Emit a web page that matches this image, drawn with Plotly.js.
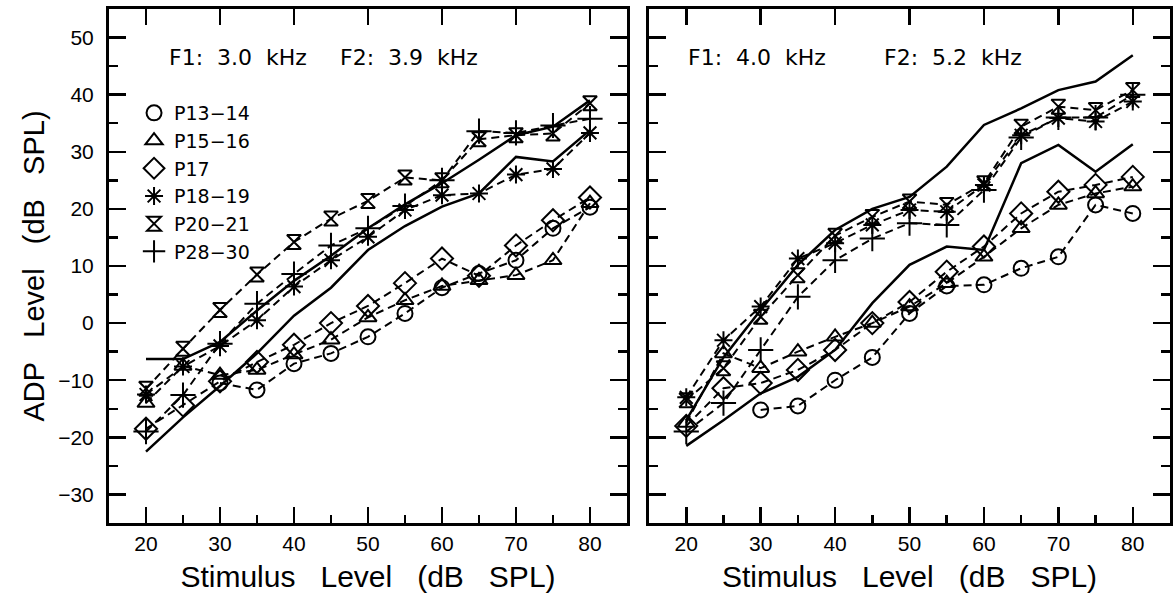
<!DOCTYPE html>
<html><head><meta charset="utf-8">
<script src="https://cdn.plot.ly/plotly-3.0.1.min.js"></script>
<style>html,body{margin:0;padding:0;background:#fff}#chart{width:1175px;height:597px}</style>
</head><body><div id="chart"></div>
<script>
// Stimulus levels (dB SPL)
const levels = [20,25,30,35,40,45,50,55,60,65,70,75,80];
const seriesNames = ['P13\u221214','P15\u221216','P17','P18\u221219','P20\u221221','P28\u221230'];
const seriesSymbols = ['circle-open','triangle-up-open','diamond-open','asterisk-open','hourglass-open','cross-thin-open'];
const seriesSizes = [15,15,17,15,14,18];

// Left panel: F1 3.0 kHz, F2 3.9 kHz
const L_P13_14 = [null,null,-10.5,-11.7,-7.1,-5.3,-2.4,1.7,6.2,8.7,11.0,16.6,20.3];
const L_P15_16 = [-14.0,-7.5,-9.1,-8.2,-5.5,-2.9,1.0,4.0,6.5,7.5,8.4,11.0,21.0];
const L_P17    = [-18.5,-14.4,-10.2,-6.8,-3.8,0.0,3.0,7.0,11.3,8.3,13.6,18.0,22.0];
const L_P18_19 = [-12.5,-7.6,-4.0,0.5,6.4,11.0,15.1,19.8,22.4,22.7,26.0,27.0,33.3];
const L_P20_21 = [-11.5,-4.5,2.3,8.5,14.2,18.3,21.4,25.5,25.0,32.2,32.9,33.2,38.5];
const L_P28_30 = [-19.0,-12.6,-3.6,3.4,8.6,13.6,16.6,20.5,25.0,33.6,33.3,34.6,35.8];
const L_solidUpper = [-6.3,-6.3,-3.3,2.2,7.4,11.8,16.6,20.8,24.5,28.6,32.9,34.4,39.0];
const L_solidLower = [-22.5,-16.5,-11.0,-5.3,1.3,6.2,12.8,17.0,20.4,22.7,29.1,28.3,33.8];

// Right panel: F1 4.0 kHz, F2 5.2 kHz
const R_P13_14 = [null,null,-15.2,-14.5,-10.0,-6.0,1.7,6.5,6.7,9.6,11.6,20.7,19.2];
const R_P15_16 = [-17.5,-5.3,-7.9,-5.0,-2.4,0.0,2.9,7.0,11.6,16.6,20.7,22.7,23.9];
const R_P17    = [-18.0,-11.4,-10.5,-8.2,-4.7,0.0,3.7,9.0,13.4,19.2,23.0,24.2,25.6];
const R_P18_19 = [-13.0,-3.0,2.9,11.3,14.0,17.2,19.8,19.5,24.2,32.9,35.9,35.3,38.8];
const R_P20_21 = [-13.5,-7.9,1.1,8.4,15.3,18.6,21.3,20.7,24.5,34.4,37.9,37.3,40.8];
const R_P28_30 = [-19.0,-14.0,-4.7,4.6,11.0,14.8,17.5,17.2,23.3,32.5,36.0,36.0,40.0];
const R_solidUpper = [-17.0,-6.0,2.3,10.2,16.3,20.0,22.1,27.4,34.7,37.6,40.8,42.3,46.9];
const R_solidLower = [-21.5,-17.0,-12.3,-9.4,-4.7,3.5,10.2,13.4,12.8,28.0,31.2,26.5,31.3];

const yTickVals = [-30,-20,-10,0,10,20,30,40,50];
const xTickVals = [20,30,40,50,60,70,80];

const leftSeries = [L_P13_14,L_P15_16,L_P17,L_P18_19,L_P20_21,L_P28_30];
const rightSeries = [R_P13_14,R_P15_16,R_P17,R_P18_19,R_P20_21,R_P28_30];

const NB = '\u00A0';
const sp = n => NB.repeat(n);
const xTitle = 'Stimulus' + sp(3) + 'Level' + sp(3) + '(dB' + sp(3) + 'SPL)';
const yTitle = 'ADP' + sp(3) + 'Level' + sp(3) + '(dB' + sp(3) + 'SPL)';

const traces = [];
function addPanel(series, solids, xa, ya, legend) {
  solids.forEach(s => traces.push({x: levels, y: s, xaxis: xa, yaxis: ya, mode: 'lines',
    line: {color: 'black', width: 2.5}, showlegend: false, hoverinfo: 'skip'}));
  series.forEach((s, i) => traces.push({x: levels, y: s, xaxis: xa, yaxis: ya, mode: 'lines',
    line: {color: 'black', width: 2, dash: '8px,5px'}, showlegend: false, hoverinfo: 'skip'}));
  series.forEach((s, i) => traces.push({x: levels, y: s, xaxis: xa, yaxis: ya, mode: 'markers',
    name: seriesNames[i], showlegend: legend,
    marker: {symbol: seriesSymbols[i], size: seriesSizes[i], color: 'black',
      line: {color: 'black', width: 2}}}));
}
addPanel(leftSeries, [L_solidUpper, L_solidLower], 'x', 'y', true);
addPanel(rightSeries, [R_solidUpper, R_solidLower], 'x2', 'y2', false);
traces.push({x: [], y: [], xaxis: 'x3', yaxis: 'y', showlegend: false, hoverinfo: 'skip'});
traces.push({x: [], y: [], xaxis: 'x4', yaxis: 'y2', showlegend: false, hoverinfo: 'skip'});

const tickFont = {family: 'Liberation Sans, Arial, sans-serif', size: 21, color: 'black'};
const titleFont = {family: 'Liberation Sans, Arial, sans-serif', size: 30, color: 'black'};
const yTitleFont = {family: 'Liberation Sans, Arial, sans-serif', size: 29, color: 'black'};

function xAxis(domain, anchor) {
  return {domain: domain, anchor: anchor, range: [15, 85], autorange: false,
    tickmode: 'array', tickvals: xTickVals, ticks: 'inside', ticklen: 16, tickwidth: 2.5, tickcolor: 'black',
    showline: true, linewidth: 3, linecolor: 'black', mirror: true, showgrid: false, zeroline: false,
    minor: {dtick: 5, tick0: 15, ticks: 'inside', ticklen: 8, tickwidth: 2.5, tickcolor: 'black', showgrid: false},
    tickfont: tickFont, ticklabelstandoff: 0,
    title: {text: xTitle, font: titleFont, standoff: 12}};
}
function topAxis(over, anchor) {
  return {overlaying: over, anchor: anchor, side: 'top', range: [15, 85], autorange: false,
    tickmode: 'array', tickvals: xTickVals, ticks: 'inside', ticklen: 16, tickwidth: 2.5, tickcolor: 'black',
    showticklabels: false, showline: false, showgrid: false, zeroline: false};
}
function yAxis(anchor, labels) {
  return {domain: [0, 1], anchor: anchor, range: [-35, 55], autorange: false,
    tickmode: 'array', tickvals: yTickVals, ticks: 'inside', ticklen: 17, tickwidth: 2.5, tickcolor: 'black',
    showline: true, linewidth: 3, linecolor: 'black', mirror: 'ticks', showgrid: false, zeroline: false,
    minor: {dtick: 5, tick0: -35, ticks: 'inside', ticklen: 9, tickwidth: 2.5, tickcolor: 'black', showgrid: false},
    showticklabels: labels, tickfont: tickFont, ticklabelstandoff: 8,
    title: labels ? {text: yTitle, font: yTitleFont, standoff: 6} : {text: ''}};
}

const annFont = {family: 'DejaVu Sans, sans-serif', size: 22, color: 'black'};
const layout = {
  width: 1175, height: 597,
  margin: {l: 109, r: 5, t: 9, b: 74},
  paper_bgcolor: 'white', plot_bgcolor: 'white',
  font: {family: 'Liberation Sans, Arial, sans-serif', color: 'black'},
  xaxis: xAxis([0, 0.4882], 'y'),
  xaxis2: xAxis([0.509, 1], 'y2'),
  xaxis3: topAxis('x', 'y'),
  xaxis4: topAxis('x2', 'y2'),
  yaxis: yAxis('x', true),
  yaxis2: yAxis('x2', false),
  showlegend: true,
  legend: {x: 0.0236, y: 0.8346, xanchor: 'left', yanchor: 'top',
    font: {family: 'DejaVu Sans, sans-serif', size: 19, color: 'black'},
    bgcolor: 'rgba(0,0,0,0)', borderwidth: 0, itemwidth: 30, tracegroupgap: 0},
  annotations: [
    {xref: 'paper', yref: 'paper', x: (167 - 109) / 1061, y: 0.9047, xanchor: 'left', yanchor: 'middle',
     text: 'F1:' + sp(2) + '3.0' + sp(2) + 'kHz', showarrow: false, font: annFont},
    {xref: 'paper', yref: 'paper', x: (338 - 109) / 1061, y: 0.9047, xanchor: 'left', yanchor: 'middle',
     text: 'F2:' + sp(2) + '3.9' + sp(2) + 'kHz', showarrow: false, font: annFont},
    {xref: 'paper', yref: 'paper', x: (686 - 109) / 1061, y: 0.9047, xanchor: 'left', yanchor: 'middle',
     text: 'F1:' + sp(2) + '4.0' + sp(2) + 'kHz', showarrow: false, font: annFont},
    {xref: 'paper', yref: 'paper', x: (882 - 109) / 1061, y: 0.9047, xanchor: 'left', yanchor: 'middle',
     text: 'F2:' + sp(2) + '5.2' + sp(2) + 'kHz', showarrow: false, font: annFont}
  ]
};
Plotly.newPlot('chart', traces, layout, {displayModeBar: false, staticPlot: true});
</script>
</body></html>
